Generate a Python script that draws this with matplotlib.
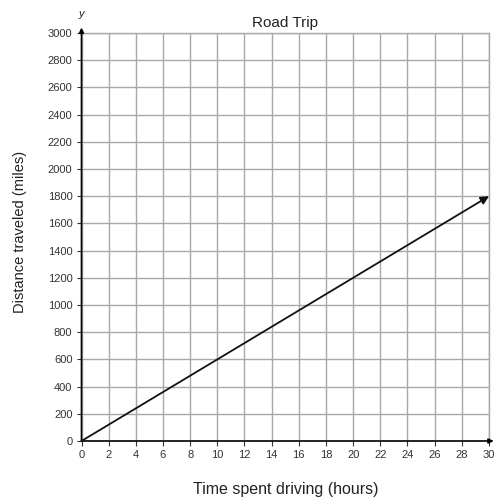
import matplotlib
matplotlib.use("Agg")
import matplotlib.pyplot as plt

plt.rcParams['font.family'] = ['Liberation Sans', 'DejaVu Sans']

# Road trip: distance vs. time at constant speed
hours = [0, 30]
miles = [0, 1800]
x_ticks = list(range(0, 31, 2))
y_ticks = list(range(0, 3001, 200))

W, H = 501, 497
fig = plt.figure(figsize=(W / 100, H / 100), dpi=100)
ax = fig.add_axes([81.5 / W, 1 - 441 / H, (489 - 81.5) / W, (441 - 33) / H])

ax.set_xlim(0, 30)
ax.set_ylim(0, 3000)
ax.set_xticks(x_ticks)
ax.set_yticks(y_ticks)
ax.grid(True, color='#a8a8a8', linewidth=1.0)
ax.set_axisbelow(True)

for side in ['top', 'right']:
    ax.spines[side].set_color('#a8a8a8')
    ax.spines[side].set_linewidth(1.0)
for side in ['left', 'bottom']:
    ax.spines[side].set_visible(False)

ax.tick_params(axis='both', labelsize=8, colors='#333333', length=3.5, width=0.8,
               direction='out', pad=3)
ax.tick_params(axis='both', colors='#333333')

# axes drawn as arrows
ax.annotate('', xy=(30.35, 0), xytext=(0, 0),
            arrowprops=dict(arrowstyle='-|>', color='black', lw=1.2,
                            mutation_scale=7, shrinkA=0, shrinkB=0),
            annotation_clip=False)
ax.annotate('', xy=(0, 3040), xytext=(0, 0),
            arrowprops=dict(arrowstyle='-|>', color='black', lw=1.2,
                            mutation_scale=7, shrinkA=0, shrinkB=0),
            annotation_clip=False)

# the data line with arrowhead
ax.annotate('', xy=(hours[1], miles[1]), xytext=(hours[0], miles[0]),
            arrowprops=dict(arrowstyle='-|>', color='#111111', lw=1.3,
                            mutation_scale=12, shrinkA=0, shrinkB=0),
            annotation_clip=False)

fig.text(81.5 / W, 1 - 17 / H, 'y', ha='center', va='baseline',
         fontsize=8, style='italic', color='#222222')
fig.text(285 / W, 1 - 27 / H, 'Road Trip', ha='center', va='baseline',
         fontsize=11, color='#222222')
fig.text(286 / W, 1 - 494 / H, 'Time spent driving (hours)', ha='center', va='baseline',
         fontsize=11.5, color='#222222')
fig.text(20 / W, 1 - 231.5 / H, 'Distance traveled (miles)', ha='center', va='center',
         rotation=90, fontsize=10.5, color='#222222')

fig.savefig('out.png', dpi=100)
